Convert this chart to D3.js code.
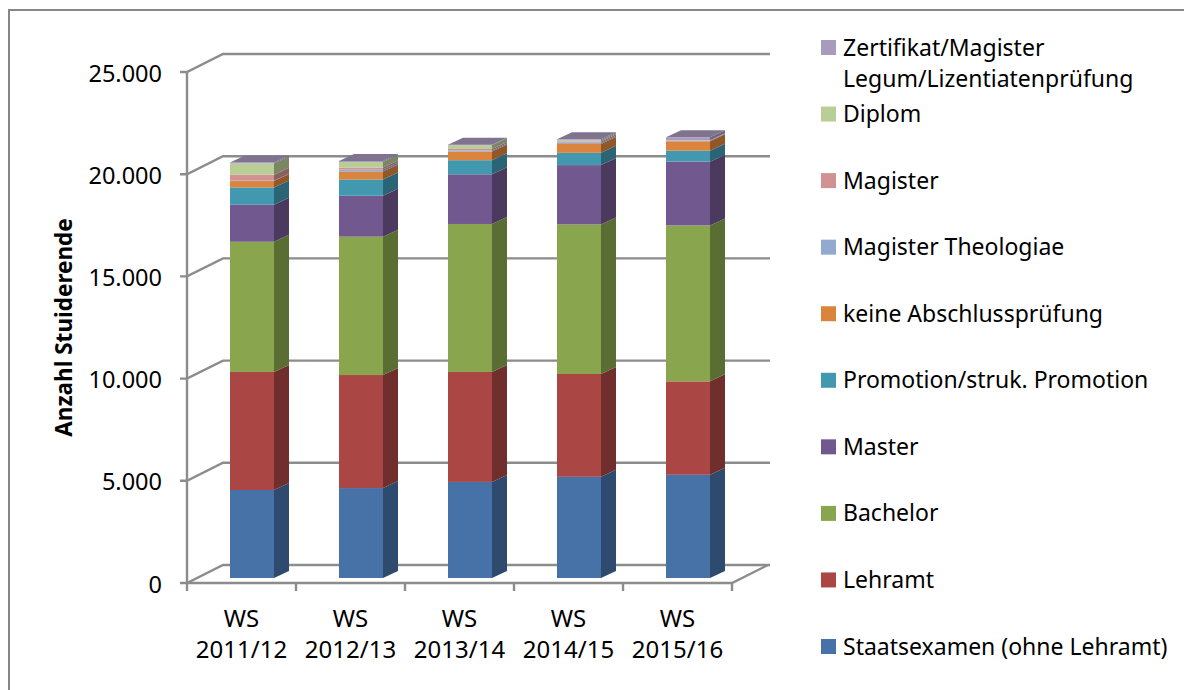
<!DOCTYPE html>
<html><head><meta charset="utf-8">
<script src="https://cdnjs.cloudflare.com/ajax/libs/d3/7.8.5/d3.min.js"></script>
<style>html,body{margin:0;padding:0;background:#fff}svg{display:block}text{font-family:"Noto Sans",Lato,sans-serif;fill:#000}</style>
</head><body><div id="chart"></div>
<script>
const categories=["WS 2011/12","WS 2012/13","WS 2013/14","WS 2014/15","WS 2015/16"];
const seriesNames=["Staatsexamen (ohne Lehramt)","Lehramt","Bachelor","Master","Promotion/struk. Promotion","keine Abschlussprüfung","Magister Theologiae","Magister","Diplom","Zertifikat/Magister Legum/Lizentiatenprüfung"];
const colors=["#4672a8","#aa4643","#89a54e","#71588f","#4198af","#db843d","#93a9cf","#d19392","#b9cd96","#a99bbd"];
const staatsexamen=[4305,4400,4700,4950,5050];
const lehramt=[5775,5530,5380,5030,4570];
const bachelor=[6370,6770,7240,7320,7630];
const master=[1810,2000,2430,2900,3120];
const promotion=[850,800,690,600,535];
const keine=[310,390,420,435,460];
const theologiae=[20,100,60,60,15];
const magister=[290,90,70,65,20];
const diplom=[550,270,180,55,15];
const zertifikat=[45,50,30,45,145];
const seriesValues=[staatsexamen,lehramt,bachelor,master,promotion,keine,theologiae,magister,diplom,zertifikat];
const yTicks=[0,5000,10000,15000,20000,25000];
const fmt=d=>d===0?"0":d3.format(",")(d).replace(/,/g,".");

const W=1184,H=690;
const svg=d3.select("#chart").append("svg").attr("width",W).attr("height",H);
svg.append("rect").attr("x",9).attr("y",10).attr("width",W+20).attr("height",H+20).attr("fill","#fff").attr("stroke","#868686").attr("stroke-width",2);

const y=d3.scaleLinear().domain([0,25000]).range([583,72]);
const x=d3.scaleBand().domain(categories).range([187,732]);
const step=x.step();
const barW=44, barOff=43;
const depthX=36,depthY=18,bDX=15,bDY=7,base=5;

const grid="#8c8c8c";
const g=svg.append("g").attr("fill","none").attr("stroke",grid).attr("stroke-width",2.4);
yTicks.forEach(t=>{
  const p=y(t);
  g.append("path").attr("d",`M180,${p}H187L${187+depthX},${p-depthY}H${770}`);
});
g.append("path").attr("d",`M187,${y(25000)}V${y(0)}H732L${732+depthX},${y(0)-depthY}`);
d3.range(categories.length+1).forEach(i=>{
  const px=187+i*step;
  g.append("path").attr("d",`M${px},${y(0)}V${y(0)+8}`);
});

const bars=svg.append("g");
const stack=d3.stack().keys(d3.range(seriesNames.length)).value((d,k)=>seriesValues[k][d])(d3.range(categories.length));
stack.forEach((layer,k)=>{
  const c=d3.color(colors[k]);
  const dark=d3.rgb(c.r*0.66,c.g*0.66,c.b*0.66);
  layer.forEach((d,i)=>{
    const x0=x(categories[i])+barOff,x1=x0+barW;
    const y0=y(d[0])-base,y1=y(d[1])-base;
    bars.append("path").attr("fill",dark)
      .attr("d",`M${x1},${y0}L${x1+bDX},${y0-bDY}V${y1-bDY}L${x1},${y1}Z`);
    bars.append("rect").attr("x",x0).attr("y",y1).attr("width",barW).attr("height",y0-y1)
      .attr("fill",colors[k]);
    if(k===stack.length-1){
      bars.append("path").attr("fill","#7f7390")
        .attr("d",`M${x0},${y1}L${x0+bDX},${y1-bDY}H${x1+bDX}L${x1},${y1}Z`);
    }
  });
});

const fs=23;
yTicks.forEach(t=>{
  svg.append("text").attr("x",162).attr("y",y(t)+9.5).attr("text-anchor","end").attr("font-size",23.5).text(fmt(t));
});
categories.forEach(c=>{
  const cx=x(c)+step/2;
  const parts=c.split(" ");
  svg.append("text").attr("x",cx).attr("y",626.5).attr("text-anchor","middle").attr("font-size",24).text(parts[0]);
  svg.append("text").attr("x",cx).attr("y",658).attr("text-anchor","middle").attr("font-size",24).text(parts[1]);
});
svg.append("text").attr("transform","translate(72,327.5) rotate(-90)").attr("text-anchor","middle")
  .attr("font-size",22.5).attr("font-weight","700").text("Anzahl Stuiderende");

const legendY=d3.scalePoint().domain(d3.range(seriesNames.length)).range([646.5,47.5]);
seriesNames.forEach((n,k)=>{
  const cy=legendY(k);
  svg.append("rect").attr("x",821).attr("y",cy-7.5).attr("width",15).attr("height",15).attr("fill",colors[k]);
  if(k===seriesNames.length-1){
    svg.append("text").attr("x",843).attr("y",cy+8).attr("font-size",fs).text("Zertifikat/Magister");
    svg.append("text").attr("x",843).attr("y",cy+39).attr("font-size",fs).text("Legum/Lizentiatenprüfung");
  } else {
    svg.append("text").attr("x",843).attr("y",cy+8).attr("font-size",fs).text(n);
  }
});
</script></body></html>
